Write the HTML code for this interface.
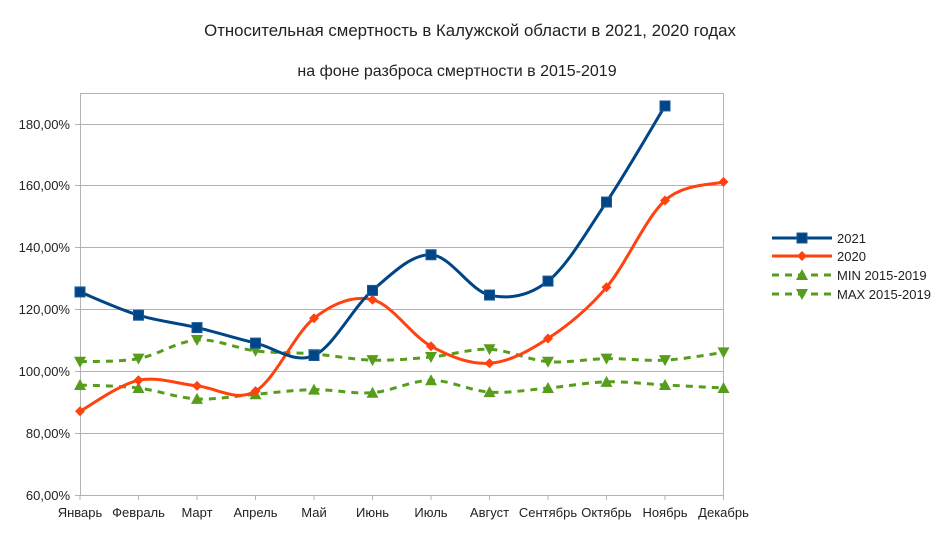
<!DOCTYPE html>
<html><head><meta charset="utf-8"><style>
body{margin:0;background:#fff}
svg text{font-family:"Liberation Sans",sans-serif;fill:#222}
</style></head><body>
<svg id="s" width="941" height="530" xmlns="http://www.w3.org/2000/svg">
<rect width="941" height="530" fill="#fff"/>
<text x="470" y="36" font-size="16.8" text-anchor="middle">Относительная смертность в Калужской области в 2021, 2020 годах</text>
<text x="457" y="76" font-size="16" text-anchor="middle">на фоне разброса смертности в 2015-2019</text>
<g stroke="#b3b3b3" stroke-width="1">
<line x1="80" y1="93.5" x2="724" y2="93.5"/>
<line x1="80" y1="124.5" x2="724" y2="124.5"/>
<line x1="80" y1="185.5" x2="724" y2="185.5"/>
<line x1="80" y1="247.5" x2="724" y2="247.5"/>
<line x1="80" y1="309.5" x2="724" y2="309.5"/>
<line x1="80" y1="371.5" x2="724" y2="371.5"/>
<line x1="80" y1="433.5" x2="724" y2="433.5"/>
<line x1="75" y1="495.5" x2="724" y2="495.5"/>
<line x1="80.5" y1="93" x2="80.5" y2="495"/>
<line x1="723.5" y1="93" x2="723.5" y2="495"/>
<line x1="75" y1="124.5" x2="80" y2="124.5"/><line x1="75" y1="185.5" x2="80" y2="185.5"/><line x1="75" y1="247.5" x2="80" y2="247.5"/><line x1="75" y1="309.5" x2="80" y2="309.5"/><line x1="75" y1="371.5" x2="80" y2="371.5"/><line x1="75" y1="433.5" x2="80" y2="433.5"/>
<g id="xt"></g>
</g>
<g font-size="13" text-anchor="end">
<text x="70" y="129">180,00%</text><text x="70" y="190">160,00%</text><text x="70" y="252">140,00%</text><text x="70" y="314">120,00%</text><text x="70" y="376">100,00%</text><text x="70" y="438">80,00%</text><text x="70" y="500">60,00%</text>
</g>
<g font-size="13" text-anchor="middle">
<text x="80" y="517">Январь</text><text x="138.5" y="517">Февраль</text><text x="197" y="517">Март</text><text x="255.5" y="517">Апрель</text><text x="314" y="517">Май</text><text x="372.5" y="517">Июнь</text><text x="431" y="517">Июль</text><text x="489.5" y="517">Август</text><text x="548" y="517">Сентябрь</text><text x="606.5" y="517">Октябрь</text><text x="665" y="517">Ноябрь</text><text x="723.5" y="517">Декабрь</text>
</g>
<g id="series"></g>
<g font-size="13">
<text x="837" y="243">2021</text><text x="837" y="261">2020</text><text x="837" y="280">MIN 2015-2019</text><text x="837" y="299">MAX 2015-2019</text>
</g>
<g id="leg"></g>
</svg>
<script>
const NS="http://www.w3.org/2000/svg";
function X(i){return 80+i*58.5}
function Y(v){return 495-(v-60)*3.1}
function el(p,t,a){const e=document.createElementNS(NS,t);for(const k in a)e.setAttribute(k,a[k]);p.appendChild(e);return e}
const xt=document.getElementById('xt');
for(let i=0;i<12;i++)el(xt,'line',{x1:X(i),y1:495,x2:X(i),y2:500});
const S=[
{d:[125.5,118,114,109,105,126,137.5,124.5,129,154.5,185.5],c:'#004586',w:3,m:'sq'},
{d:[87,97,95.2,93.5,117,123,108,102.5,110.5,127,155,161],c:'#ff420e',w:3,m:'dia'},
{d:[95.5,94.5,91,92.5,94,93,97,93.2,94.5,96.5,95.5,94.5],c:'#579d1c',w:3,m:'up',dash:'7,6'},
{d:[103,104,110,106.5,105.5,103.5,104.5,107,103,104,103.5,106],c:'#579d1c',w:3,m:'dn',dash:'7,6'}
];
function path(pts){let d=`M${pts[0][0]},${pts[0][1]}`;for(let i=0;i<pts.length-1;i++){const p0=pts[i-1]||pts[i],p1=pts[i],p2=pts[i+1],p3=pts[i+2]||p2;const t=6;d+=` C${p1[0]+(p2[0]-p0[0])/t},${p1[1]+(p2[1]-p0[1])/t} ${p2[0]-(p3[0]-p1[0])/t},${p2[1]-(p3[1]-p1[1])/t} ${p2[0]},${p2[1]}`}return d}
function mark(g,m,x,y,c){
 if(m=='sq')el(g,'rect',{x:x-5,y:y-5,width:10,height:10,fill:c,stroke:'#1a5a99','stroke-width':1});
 else if(m=='dia')el(g,'polygon',{points:`${x},${y-5} ${x+5},${y} ${x},${y+5} ${x-5},${y}`,fill:c});
 else if(m=='up')el(g,'polygon',{points:`${x},${y-6} ${x+6},${y+5} ${x-6},${y+5}`,fill:c});
 else el(g,'polygon',{points:`${x-6},${y-5} ${x+6},${y-5} ${x},${y+6}`,fill:c});
}
const g=document.getElementById('series');
for(const s of [S[2],S[3],S[1],S[0]]){
 const pts=s.d.map((v,i)=>[X(i),Y(v)]);
 const a={d:path(pts),fill:'none',stroke:s.c,'stroke-width':s.w};if(s.dash)a['stroke-dasharray']=s.dash;
 el(g,'path',a);pts.forEach(p=>mark(g,s.m,p[0],p[1],s.c));
}
const lg=document.getElementById('leg');
[238,256,275,294].forEach((y,i)=>{const s=S[i];const a={x1:772,y1:y,x2:832,y2:y,stroke:s.c,'stroke-width':3};if(s.dash)a['stroke-dasharray']=s.dash;el(lg,'line',a);mark(lg,s.m,802,y,s.c)});
</script>
</body></html>
